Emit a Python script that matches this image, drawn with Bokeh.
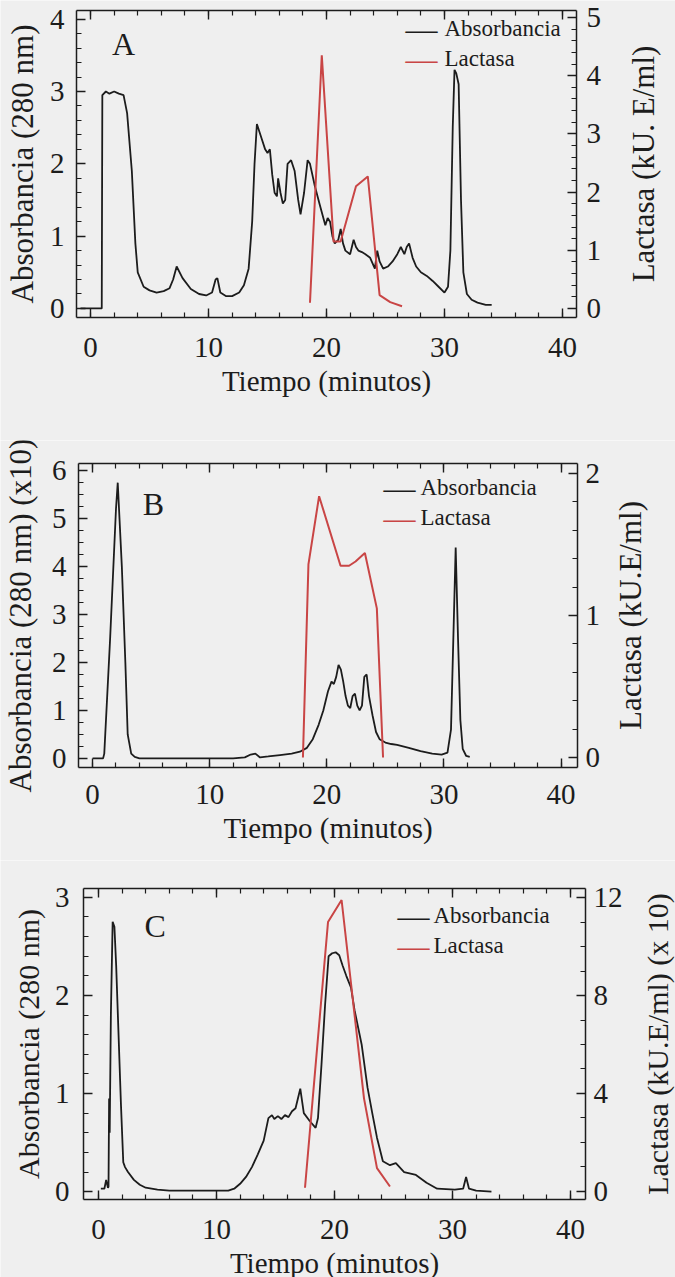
import math
from bokeh.plotting import figure
from bokeh.models import (Range1d, LinearAxis, SingleIntervalTicker, Label, CustomJSTickFormatter)
from bokeh.layouts import column
from bokeh.embed import file_html
from bokeh.resources import INLINE

# ---------------- data ----------------
# Panel A
tA_abs = [-0.85, 0.95, 1.0, 1.3, 1.6, 2.0, 2.4, 2.8, 3.1, 3.5, 3.8, 4.0, 4.5, 5.0, 5.6, 6.2, 6.7, 7.0,
          7.3, 7.8, 8.5, 9.2, 9.8, 10.3, 10.6, 10.75, 11.0, 11.5, 12.0, 12.6, 13.0, 13.4, 13.7, 13.9,
          14.1, 14.3, 14.5, 14.8, 15.0, 15.2, 15.4, 15.6, 15.8, 15.9, 16.1, 16.3, 16.5, 16.7, 17.0,
          17.3, 17.6, 17.8, 18.1, 18.4, 18.6, 18.8, 19.0, 19.4, 19.9, 20.1, 20.3, 20.5, 20.7, 21.0,
          21.2, 21.4, 21.6, 22.0, 22.3, 22.5, 22.7, 23.0, 23.3, 23.7, 24.1, 24.3, 24.5, 24.8, 25.2,
          25.6, 26.0, 26.3, 26.6, 26.8, 27.0, 27.3, 27.6, 28.0, 28.5, 29.0, 29.5, 30.0, 30.3, 30.5,
          30.7, 30.85, 31.0, 31.2, 31.4, 31.6, 31.9, 32.3, 32.8, 33.5, 34.0]
absA = [0.0, 0.0, 2.95, 3.0, 2.97, 3.0, 2.97, 2.95, 2.7, 1.9, 0.9, 0.5, 0.3, 0.25, 0.22, 0.24, 0.28, 0.4,
        0.58, 0.42, 0.27, 0.2, 0.18, 0.22, 0.4, 0.42, 0.22, 0.17, 0.17, 0.22, 0.32, 0.55, 1.2, 2.0,
        2.55, 2.45, 2.35, 2.2, 2.15, 2.2, 1.85, 1.6, 1.55, 1.8, 1.6, 1.45, 1.5, 2.0, 2.05,
        1.9, 1.5, 1.3, 1.6, 2.05, 2.0, 1.85, 1.7, 1.45, 1.15, 1.25, 1.2, 1.0, 0.9, 0.95,
        1.1, 0.9, 0.8, 0.75, 0.95, 0.85, 0.8, 0.78, 0.75, 0.7, 0.55, 0.8, 0.65, 0.55, 0.58,
        0.65, 0.75, 0.85, 0.75, 0.85, 0.9, 0.7, 0.58, 0.5, 0.45, 0.38, 0.3, 0.22, 0.3, 0.8,
        2.5, 3.3, 3.25, 3.1, 1.5, 0.5, 0.2, 0.12, 0.08, 0.05, 0.05]
tA_lac = [18.6, 19.6, 20.6, 21.2, 22.5, 23.5, 24.5, 25.4, 26.4]
lacA = [0.1, 4.35, 1.15, 1.15, 2.1, 2.27, 0.23, 0.11, 0.04]

# Panel B
tB_abs = [0.0, 0.9, 1.0, 1.5, 2.0, 2.15, 2.5, 2.8, 3.0, 3.3, 3.6, 4.0, 6.0, 8.0, 10.0, 12.0, 13.0,
          13.5, 13.9, 14.3, 15.0, 16.0, 17.0, 17.7, 18.3, 18.8, 19.3, 19.7, 20.1, 20.4, 20.6, 20.8,
          21.0, 21.2, 21.4, 21.6, 21.8, 22.0, 22.2, 22.4, 22.6, 22.8, 23.0, 23.2, 23.4, 23.6, 23.9,
          24.2, 24.5, 25.0, 25.5, 26.0, 27.0, 28.0, 29.0, 29.8, 30.3, 30.6, 30.8, 31.0, 31.2, 31.4,
          31.6, 31.9, 32.2]
absB = [0.0, 0.0, 0.1, 2.5, 5.2, 5.75, 4.0, 2.0, 0.5, 0.1, 0.03, 0.0, 0.0, 0.0, 0.0, 0.0, 0.02,
        0.08, 0.1, 0.02, 0.04, 0.07, 0.1, 0.14, 0.22, 0.4, 0.7, 1.0, 1.4, 1.6, 1.55, 1.7,
        1.95, 1.85, 1.6, 1.3, 1.1, 1.05, 1.3, 1.35, 1.1, 1.0, 1.1, 1.7, 1.75, 1.3, 0.9,
        0.55, 0.4, 0.33, 0.3, 0.28, 0.22, 0.15, 0.1, 0.08, 0.12, 0.6, 2.5, 4.4, 2.5, 0.8,
        0.2, 0.05, 0.03]
tB_lac = [17.96, 18.43, 19.34, 21.17, 21.9, 22.45, 23.25, 24.27, 24.8]
lacB = [0.0, 1.36, 1.84, 1.35, 1.35, 1.38, 1.44, 1.05, 0.0]

# Panel C
tC_abs = [0.2, 0.5, 0.65, 0.8, 0.85, 0.9, 0.95, 1.05, 1.2, 1.35, 1.5, 1.7, 1.9, 2.1, 2.25, 2.5, 3.0,
          3.5, 4.0, 5.0, 6.0, 8.0, 10.0, 11.0, 11.5, 12.0, 12.5, 13.0, 13.5, 14.0, 14.4, 14.7, 14.9,
          15.2, 15.5, 15.8, 16.1, 16.4, 16.7, 16.9, 17.1, 17.4, 17.9, 18.4, 18.6, 18.9, 19.2, 19.5,
          19.8, 20.1, 20.4, 20.7, 21.0, 21.4, 21.7, 22.3, 22.8, 23.2, 23.6, 24.1, 24.7, 25.2, 25.9,
          26.9, 27.8, 28.7, 30.2, 30.9, 31.15, 31.4, 32.0, 33.3]
absC = [0.03, 0.03, 0.12, 0.04, 0.05, 0.95, 0.6, 1.8, 2.75, 2.7, 2.3, 1.6, 0.9, 0.3, 0.25, 0.2, 0.12,
        0.07, 0.04, 0.02, 0.01, 0.01, 0.01, 0.01, 0.03, 0.08, 0.15, 0.25, 0.38, 0.52, 0.75, 0.78, 0.74,
        0.77, 0.74, 0.78, 0.76, 0.82, 0.85, 0.95, 1.05, 0.8, 0.72, 0.65, 0.75, 1.3, 1.9, 2.4,
        2.43, 2.44, 2.41, 2.3, 2.2, 2.08, 1.85, 1.5, 1.06, 0.8, 0.55, 0.31, 0.27, 0.29, 0.2,
        0.17, 0.09, 0.03, 0.02, 0.03, 0.15, 0.03, 0.01, 0.0]
tC_lac = [17.5, 19.45, 20.6, 22.5, 23.6, 24.7]
lacC = [0.15, 11.0, 11.9, 3.8, 0.95, 0.2]

# tick labels
x_ticks = [0, 10, 20, 30, 40]
A_left_ticks = [0, 1, 2, 3, 4]
A_right_ticks = [0, 1, 2, 3, 4, 5]
B_left_ticks = [0, 1, 2, 3, 4, 5, 6]
B_right_ticks = [0, 1, 2]
C_left_ticks = [0, 1, 2, 3]
C_right_ticks = [0, 4, 8, 12]

x_label = "Tiempo (minutos)"
legend_labels = ["Absorbancia", "Lactasa"]

# ---------------- style ----------------
W = 675
BG = "#efefef"
FONT = "Liberation Serif"
BLACK = "#1c1c1c"
RED = "#c94545"


def style_axis(ax):
    ax.axis_line_width = 1.5
    ax.axis_line_color = BLACK
    ax.major_tick_in = 9
    ax.major_tick_out = 0
    ax.minor_tick_in = 5
    ax.minor_tick_out = 0
    ax.major_tick_line_width = 1.4
    ax.minor_tick_line_width = 1.2
    ax.major_tick_line_color = BLACK
    ax.minor_tick_line_color = BLACK
    ax.major_label_text_font_size = "0px"
    ax.major_label_standoff = 0
    ax.formatter = CustomJSTickFormatter(code="return ''")


def canvas_range(d0, d1, p0, p1, size, vertical=False):
    # p0/p1: pixel edges of the plot box measured from the left (x) or from the top (y)
    scale = (p1 - p0) / (d1 - d0)
    if vertical:
        return Range1d(d0 - (size - p1) / scale, d1 + p0 / scale)
    return Range1d(d0 - p0 / scale, d1 + (size - p1) / scale)


def txt(p, x, y, text, size, xo=0, yo=0, align="center", angle=0.0, color=BLACK, rng="default"):
    p.add_layout(Label(x=x, y=y, x_offset=xo, y_offset=yo, text=text, text_font=FONT,
                       text_font_size=size, text_align=align, text_baseline="middle",
                       angle=angle, text_color=color, y_range_name=rng))


def panel(height, box, xr, yr, yr2, ytick, y2tick, lticks, rticks, ylabel, y2label,
          t_abs, v_abs, t_lac, v_lac, letter, letter_xy, leg, pos):
    bl, br, bt, bb = box
    p = figure(width=W, height=height, output_backend="svg", toolbar_location=None,
               x_axis_type=None, y_axis_type=None,
               x_range=canvas_range(xr[0], xr[1], bl, br, W),
               y_range=canvas_range(yr[0], yr[1], bt, bb, height, vertical=True),
               min_border=0, background_fill_color=BG, border_fill_color=BG)
    p.outline_line_color = None
    p.grid.visible = False
    p.extra_y_ranges = {"lac": canvas_range(yr2[0], yr2[1], bt, bb, height, vertical=True)}

    xb = LinearAxis(ticker=SingleIntervalTicker(interval=10, num_minor_ticks=5),
                    fixed_location=yr[0], bounds=(xr[0], xr[1]))
    style_axis(xb)
    p.add_layout(xb, "below")
    xt = LinearAxis(ticker=SingleIntervalTicker(interval=10, num_minor_ticks=5),
                    fixed_location=yr[1], bounds=(xr[0], xr[1]))
    style_axis(xt)
    p.add_layout(xt, "above")
    yl = LinearAxis(ticker=SingleIntervalTicker(interval=ytick[0], num_minor_ticks=ytick[1]),
                    fixed_location=xr[0], bounds=(yr[0], yr[1]))
    style_axis(yl)
    p.add_layout(yl, "left")
    yrr = LinearAxis(y_range_name="lac",
                     ticker=SingleIntervalTicker(interval=y2tick[0], num_minor_ticks=y2tick[1]),
                     fixed_location=xr[1], bounds=(yr2[0], yr2[1]))
    style_axis(yrr)
    p.add_layout(yrr, "right")

    p.line(t_abs, v_abs, line_color=BLACK, line_width=1.8)
    p.line(t_lac, v_lac, line_color=RED, line_width=2.0, y_range_name="lac")

    # tick labels
    for v in x_ticks:
        txt(p, v, yr[0], str(v), "29px", yo=pos["xl"])
    for v in lticks:
        txt(p, xr[0], v, str(v), "29px", xo=pos["yl"], align="right")
    for v in rticks:
        txt(p, xr[1], v, str(v), "29px", xo=pos["rl"], align="left", rng="lac")

    # axis titles
    ymid = (yr[0] + yr[1]) / 2
    txt(p, (xr[0] + xr[1]) / 2, yr[0], x_label, "29px", yo=pos["xt"])
    txt(p, xr[0], ymid, ylabel, pos["ts"], xo=pos["yt"], angle=math.pi / 2)
    txt(p, xr[1], ymid, y2label, pos["ts"], xo=pos["rt"], angle=math.pi / 2)

    # legend
    dash_x, text_x, row1, row2 = leg
    txt(p, xr[1], yr[1], "\u2014", "32px", xo=dash_x, yo=row1)
    txt(p, xr[1], yr[1], legend_labels[0], "23px", xo=text_x, yo=row1, align="left")
    txt(p, xr[1], yr[1], "\u2014", "32px", xo=dash_x, yo=row2, color=RED)
    txt(p, xr[1], yr[1], legend_labels[1], "23px", xo=text_x, yo=row2, align="left")

    txt(p, letter_xy[0], letter_xy[1], letter, "32px")
    return p


pA = panel(440, (76, 576, 10, 317), (-1.19, 41.19), (-0.125, 4.12), (-0.154, 5.12), (1, 5), (1, 5),
           A_left_ticks, A_right_ticks,
           "Absorbancia (280 nm)", "Lactasa (kU. E/ml)", tA_abs, absA, tA_lac, lacA,
           "A", (2.8, 3.66), (-155, -132, -18, -48),
           dict(xl=-30, xt=-63, yl=-12, yt=-54, rl=10, rt=67, ts="31px"))
pB = panel(420, (78, 577, 23, 327), (-1.2, 41.4), (-0.19, 6.15), (-0.07, 2.07), (1, 4), (1, 5),
           B_left_ticks, B_right_ticks,
           "Absorbancia (280 nm) (x10)", "Lactasa (kU.E/ml)", tB_abs, absB, tB_lac, lacB,
           "B", (5.2, 5.3), (-178, -157, -24, -54),
           dict(xl=-27, xt=-60, yl=-12, yt=-58, rl=8, rt=53, ts="31px"))
pC = panel(417, (83, 585, 28, 339), (-1.27, 41.27), (-0.08, 3.09), (-0.33, 12.37), (1, 5), (4, 4),
           C_left_ticks, C_right_ticks,
           "Absorbancia (280 nm)", "Lactasa (kU.E/ml) (x 10)", tC_abs, absC, tC_lac, lacC,
           "C", (4.8, 2.71), (-172, -152, -27, -57),
           dict(xl=-30, xt=-63, yl=-14, yt=-55, rl=8, rt=72, ts="30px"))

layout = column(pA, pB, pC, spacing=0)
open("out.html", "w").write(file_html(layout, INLINE))
